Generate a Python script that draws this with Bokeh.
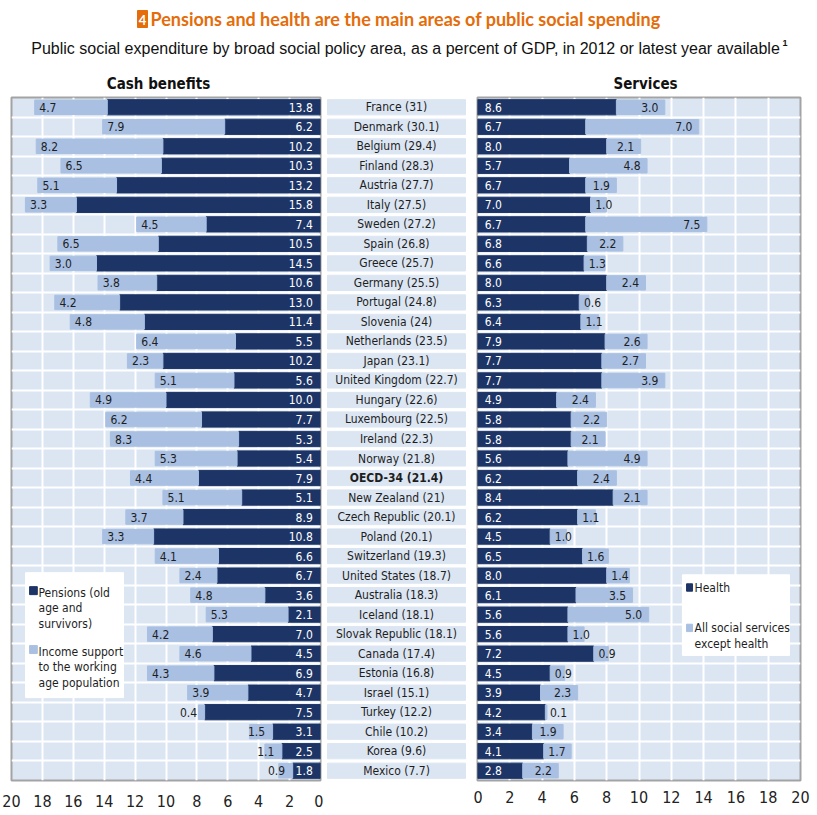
from bokeh.plotting import figure
from bokeh.models import Range1d, FixedTicker, ColumnDataSource
from bokeh.layouts import column, row
from bokeh.embed import file_html
from bokeh.resources import INLINE
from bokeh.core.properties import value

# ---------------- data ----------------
countries = [
    "France (31)", "Denmark (30.1)", "Belgium (29.4)", "Finland (28.3)", "Austria (27.7)",
    "Italy (27.5)", "Sweden (27.2)", "Spain (26.8)", "Greece (25.7)", "Germany (25.5)",
    "Portugal (24.8)", "Slovenia (24)", "Netherlands (23.5)", "Japan (23.1)",
    "United Kingdom (22.7)", "Hungary (22.6)", "Luxembourg (22.5)", "Ireland (22.3)",
    "Norway (21.8)", "OECD-34 (21.4)", "New Zealand (21)", "Czech Republic (20.1)",
    "Poland (20.1)", "Switzerland (19.3)", "United States (18.7)", "Australia (18.3)",
    "Iceland (18.1)", "Slovak Republic (18.1)", "Canada (17.4)", "Estonia (16.8)",
    "Israel (15.1)", "Turkey (12.2)", "Chile (10.2)", "Korea (9.6)", "Mexico (7.7)",
]
pensions = [13.8, 6.2, 10.2, 10.3, 13.2, 15.8, 7.4, 10.5, 14.5, 10.6, 13.0, 11.4,
            5.5, 10.2, 5.6, 10.0, 7.7, 5.3, 5.4, 7.9, 5.1, 8.9, 10.8, 6.6, 6.7,
            3.6, 2.1, 7.0, 4.5, 6.9, 4.7, 7.5, 3.1, 2.5, 1.8]
income_support = [4.7, 7.9, 8.2, 6.5, 5.1, 3.3, 4.5, 6.5, 3.0, 3.8, 4.2, 4.8,
                  6.4, 2.3, 5.1, 4.9, 6.2, 8.3, 5.3, 4.4, 5.1, 3.7, 3.3, 4.1, 2.4,
                  4.8, 5.3, 4.2, 4.6, 4.3, 3.9, 0.4, 1.5, 1.1, 0.9]
health = [8.6, 6.7, 8.0, 5.7, 6.7, 7.0, 6.7, 6.8, 6.6, 8.0, 6.3, 6.4,
          7.9, 7.7, 7.7, 4.9, 5.8, 5.8, 5.6, 6.2, 8.4, 6.2, 4.5, 6.5, 8.0,
          6.1, 5.6, 5.6, 7.2, 4.5, 3.9, 4.2, 3.4, 4.1, 2.8]
social_services = [3.0, 7.0, 2.1, 4.8, 1.9, 1.0, 7.5, 2.2, 1.3, 2.4, 0.6, 1.1,
                   2.6, 2.7, 3.9, 2.4, 2.2, 2.1, 4.9, 2.4, 2.1, 1.1, 1.0, 1.6, 1.4,
                   3.5, 5.0, 1.0, 0.9, 0.9, 2.3, 0.1, 1.9, 1.7, 2.2]
axis_ticks = [0, 2, 4, 6, 8, 10, 12, 14, 16, 18, 20]

title = "Pensions and health are the main areas of public social spending"
subtitle = ("Public social expenditure by broad social policy area, as a percent of GDP, "
            "in 2012 or latest year available")

# ---------------- style ----------------
NAVY = "#1d3466"
LIGHT = "#a9c0e2"
BG = "#dce6f2"
TXT = "#1e1e1e"
NARROW = "'Liberation Sans Narrow', 'DejaVu Sans Condensed', sans-serif"
ORANGE = "#e46c0a"
LBL = "12px"

n = len(countries)
ys = list(range(n))

src = ColumnDataSource(dict(
    y=ys,
    country=countries,
    style=["bold" if c.startswith("OECD") else "normal" for c in countries],
    pen=pensions,
    inc=income_support,
    cash_total=[p + i for p, i in zip(pensions, income_support)],
    pen_lbl=[f"{v:.1f}" for v in pensions],
    inc_lbl=[f"{v:.1f}" for v in income_support],
    inc_x=[max(p + i - 0.3, p + 1.6) for p, i in zip(pensions, income_support)],
    hea=health,
    soc=social_services,
    serv_total=[h + s for h, s in zip(health, social_services)],
    hea_lbl=[f"{v:.1f}" for v in health],
    soc_lbl=[f"{v:.1f}" for v in social_services],
    soc_x=[max(h + s - 0.4, h + 1.35) for h, s in zip(health, social_services)],
))


def style_panel(p, standoff):
    p.background_fill_color = BG
    p.outline_line_color = "#a3a3a3"
    p.outline_line_width = 2
    p.xgrid.ticker = FixedTicker(ticks=axis_ticks[1:-1])
    p.xgrid.grid_line_color = "white"
    p.xgrid.grid_line_width = 2
    p.ygrid.ticker = FixedTicker(ticks=[i + 0.5 for i in range(n - 1)])
    p.ygrid.grid_line_color = "white"
    p.ygrid.grid_line_width = 2
    ax = p.xaxis[0]
    ax.ticker = FixedTicker(ticks=axis_ticks)
    ax.axis_line_color = None
    ax.major_tick_line_color = None
    ax.minor_tick_line_color = None
    ax.major_tick_out = 0
    ax.major_tick_in = 0
    ax.major_label_standoff = standoff
    ax.major_label_text_font = NARROW
    ax.major_label_text_font_size = "16px"
    ax.major_label_text_color = "#222222"


# ---------------- header ----------------
header = figure(width=817, height=92, x_range=Range1d(0, 817), y_range=Range1d(92, 0),
                x_axis_location=None, y_axis_location=None, toolbar_location=None,
                output_backend="svg", min_border=0, outline_line_color=None)
header.xgrid.visible = False
header.ygrid.visible = False
header.quad(left=[137], right=[147], top=[10], bottom=[27], color=ORANGE)
header.text(x=[142], y=[19], text=["4"], text_color="white", text_font=value("Lato"),
            text_font_style="bold", text_font_size="13px", text_align="center",
            text_baseline="middle")
header.text(x=[150], y=[18], text=[title], text_color=ORANGE, text_font=value("Lato"),
            text_font_style="bold", text_font_size="18px", text_align="left",
            text_baseline="middle")
header.text(x=[405], y=[48], text=[subtitle], text_color="#111111",
            text_font=value("Liberation Sans"), text_font_size="16px",
            text_align="center", text_baseline="middle")
header.text(x=[782], y=[42], text=["1"], text_color="#111111",
            text_font=value("Liberation Sans"), text_font_style="bold",
            text_font_size="9px", text_align="left", text_baseline="middle")
header.text(x=[158, 645], y=[83, 83], text=["Cash benefits", "Services"],
            text_color="#111111", text_font=value(NARROW), text_font_style="bold",
            text_font_size="15px", text_align="center", text_baseline="middle")

# ---------------- left panel: cash benefits ----------------
left = figure(width=323, height=723, x_range=Range1d(20, 0), y_range=Range1d(n - 0.5, -0.5),
              y_axis_location=None, toolbar_location=None, output_backend="svg",
              min_border_left=11, min_border_right=3, min_border_top=5, min_border_bottom=35)
style_panel(left, 14)
left.hbar(y="y", left=0, right="pen", height=0.78, color=NAVY, source=src)
left.hbar(y="y", left="pen", right="cash_total", height=0.74, color=LIGHT, source=src)
left.text(x=0.5, y="y", text="pen_lbl", source=src, text_color="white",
          text_font=value(NARROW), text_font_size=LBL, text_align="right",
          text_baseline="middle")
left.text(x="inc_x", y="y", text="inc_lbl", source=src, text_color=TXT,
          text_font=value(NARROW), text_font_size=LBL, text_align="left",
          text_baseline="middle")
# legend
left.quad(left=[19.09], right=[12.75], top=[23.85], bottom=[30.25], color="white")
left.rect(x=[18.58, 18.58], y=[24.77, 27.79], width=0.5, height=0.41,
          color=[NAVY, LIGHT])
left.text(x=18.25, y=[24.87, 25.64, 26.46, 27.9, 28.67, 29.49],
          text=["Pensions (old", "age and", "survivors)",
                "Income support", "to the working", "age population"],
          text_color=TXT, text_font=value(NARROW), text_font_size=LBL,
          text_align="left", text_baseline="middle")

# ---------------- middle: country labels ----------------
mid = figure(width=150, height=723, x_range=Range1d(0, 150), y_range=left.y_range,
             x_axis_location=None, y_axis_location=None, toolbar_location=None,
             output_backend="svg", min_border_left=0, min_border_right=0,
             min_border_top=5, min_border_bottom=35, outline_line_color=None)
mid.xgrid.visible = False
mid.ygrid.visible = False
mid.rect(x=73, y="y", width=138, height=0.78, color=BG, source=src)
mid.text(x=73, y="y", text="country", source=src, text_color=TXT,
         text_font=value(NARROW), text_font_size=LBL, text_font_style="style",
         text_align="center", text_baseline="middle")

# ---------------- right panel: services ----------------
right = figure(width=344, height=723, x_range=Range1d(0, 20), y_range=Range1d(n - 0.5, -0.5),
               y_axis_location=None, toolbar_location=None, output_backend="svg",
               min_border_left=4, min_border_right=17, min_border_top=1, min_border_bottom=29)
style_panel(right, 10)
right.hbar(y="y", left=0, right="hea", height=0.78, color=NAVY, source=src)
right.hbar(y="y", left="hea", right="serv_total", height=0.74, color=LIGHT, source=src)
right.text(x=0.45, y="y", text="hea_lbl", source=src, text_color="white",
           text_font=value(NARROW), text_font_size=LBL, text_align="left",
           text_baseline="middle")
right.text(x="soc_x", y="y", text="soc_lbl", source=src, text_color=TXT,
           text_font=value(NARROW), text_font_size=LBL, text_align="right",
           text_baseline="middle")
# legend
right.quad(left=[12.69], right=[19.32], top=[23.96], bottom=[28.09], color="white")
right.rect(x=[13.13, 13.13], y=[24.61, 26.68], width=0.37, height=0.38,
           color=[NAVY, LIGHT])
right.text(x=13.44, y=[24.66, 26.68, 27.49],
           text=["Health", "All social services", "except health"],
           text_color=TXT, text_font=value(NARROW), text_font_size=LBL,
           text_align="left", text_baseline="middle")

layout = column(header, row(left, mid, right, spacing=0), spacing=0)
open("out.html", "w").write(file_html(layout, INLINE))
